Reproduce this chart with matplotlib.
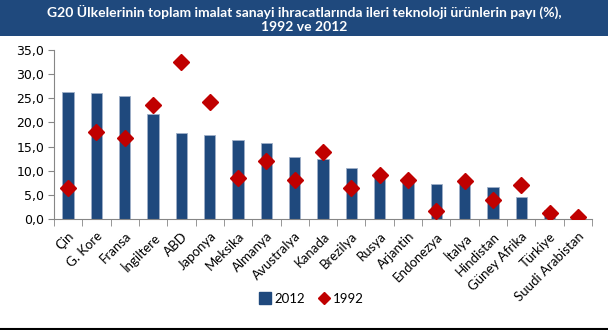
import numpy as np
import matplotlib.pyplot as plt
from matplotlib.patches import Rectangle
from matplotlib.lines import Line2D
from matplotlib.ticker import FuncFormatter

# Ülkeler ve ileri teknoloji payları (%)
ulkeler = ['Çin', 'G. Kore', 'Fransa', 'İngiltere', 'ABD', 'Japonya', 'Meksika',
           'Almanya', 'Avustralya', 'Kanada', 'Brezilya', 'Rusya', 'Arjantin',
           'Endonezya', 'İtalya', 'Hindistan', 'Güney Afrika', 'Türkiye',
           'Suudi Arabistan']
pay_2012 = [26.3, 26.1, 25.4, 21.8, 17.8, 17.4, 16.4, 15.8, 12.8, 12.4, 10.5,
            8.6, 8.1, 7.3, 7.2, 6.6, 4.6, 1.8, 0.1]
pay_1992 = [6.4, 18.1, 16.7, 23.7, 32.6, 24.3, 8.5, 12.0, 8.1, 13.9, 6.4,
            9.2, 8.1, 1.7, 7.9, 3.9, 7.0, 1.3, 0.5]

lacivert = '#1F497D'
kirmizi = '#C00000'

plt.rcParams['font.family'] = ['Lato', 'DejaVu Sans']

fig = plt.figure(figsize=(6.08, 3.30), dpi=100)

# Başlık bandı
fig.patches.append(Rectangle((0, 1 - 36 / 330), 1, 36 / 330, transform=fig.transFigure,
                             facecolor=lacivert, edgecolor='none', zorder=0))
fig.text(0.5, 1 - 12 / 330, 'G20 Ülkelerinin toplam imalat sanayi ihracatlarında ileri teknoloji ürünlerin payı (%),',
         ha='center', va='center', color='white', fontsize=10, fontweight='bold')
fig.text(0.5, 1 - 27 / 330, '1992 ve 2012', ha='center', va='center',
         color='white', fontsize=10, fontweight='bold')
fig.lines.append(Line2D([0, 1], [1.5 / 330, 1.5 / 330], transform=fig.transFigure,
                        color='black', linewidth=1.5))

ax = fig.add_axes([54 / 608, 1 - 219 / 330, (592 - 54) / 608, (219 - 50) / 330])
x = np.arange(len(ulkeler))
ax.bar(x, pay_2012, width=0.4, color=lacivert, edgecolor='#9FB0C8', linewidth=0.6,
       label='2012', zorder=2)
ax.plot(x, pay_1992, linestyle='none', marker='D', markersize=8.5, color=kirmizi,
        markeredgecolor=kirmizi, label='1992', zorder=3)

ax.set_xlim(-0.5, len(ulkeler) - 0.5)
ax.set_ylim(0, 35)
ax.set_yticks(np.arange(0, 36, 5))
ax.yaxis.set_major_formatter(FuncFormatter(lambda v, p: f'{v:.1f}'.replace('.', ',')))
ax.tick_params(axis='y', labelsize=9, length=4, color='#868686', pad=3)
ax.tick_params(axis='y', labelfontfamily='DejaVu Sans')

ax.set_xticks(x)
ax.set_xticklabels(ulkeler, rotation=45, ha='right', rotation_mode='anchor', fontsize=9.5)
ax.tick_params(axis='x', which='major', length=0, pad=8)
ax.set_xticks(np.arange(-0.5, len(ulkeler), 1), minor=True)
ax.tick_params(axis='x', which='minor', length=5, color='#868686')

for s in ['top', 'right']:
    ax.spines[s].set_visible(False)
for s in ['left', 'bottom']:
    ax.spines[s].set_color('#868686')

handles = [Line2D([], [], linestyle='none', marker='s', markersize=8, color=lacivert),
           Line2D([], [], linestyle='none', marker='D', markersize=6, color=kirmizi)]
fig.legend(handles, ['2012', '1992'], loc='center', bbox_to_anchor=(312 / 608, 1 - 299 / 330),
           ncol=2, frameon=False, fontsize=9.5, handlelength=0.8, handletextpad=0.3,
           columnspacing=1.0)

fig.savefig('out.png', dpi=100)
